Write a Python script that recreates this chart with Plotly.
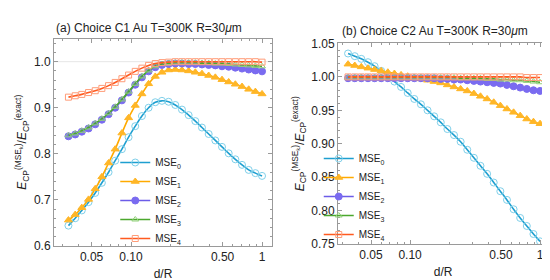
import plotly.graph_objects as go
from plotly.subplots import make_subplots

# d/R sample points (log spaced from 1/30 to 1)
d_over_r = [0.0333, 0.0375, 0.0421, 0.0474, 0.0533, 0.0599, 0.0674, 0.0757, 0.0852, 0.0958,
            0.1077, 0.1211, 0.1362, 0.1532, 0.1722, 0.1936, 0.2177, 0.2448, 0.2753, 0.3096,
            0.3480, 0.3914, 0.4400, 0.4948, 0.5564, 0.6256, 0.7035, 0.7910, 0.8895, 1.0]

# panel (a): choice C1
a_mse0 = [0.644, 0.660, 0.677, 0.695, 0.715, 0.737, 0.760, 0.785, 0.810, 0.836,
          0.860, 0.882, 0.900, 0.912, 0.915, 0.913, 0.906, 0.896, 0.884, 0.871,
          0.857, 0.843, 0.829, 0.815, 0.801, 0.788, 0.776, 0.765, 0.758, 0.752]
a_mse1 = [0.656, 0.668, 0.683, 0.701, 0.724, 0.750, 0.780, 0.810, 0.845, 0.878,
          0.905, 0.930, 0.952, 0.968, 0.977, 0.982, 0.983, 0.982, 0.980, 0.977,
          0.974, 0.970, 0.966, 0.961, 0.956, 0.951, 0.946, 0.940, 0.935, 0.930]
a_mse2 = [0.838, 0.842, 0.848, 0.855, 0.864, 0.874, 0.886, 0.900, 0.916, 0.933,
          0.950, 0.966, 0.979, 0.988, 0.993, 0.995, 0.996, 0.996, 0.995, 0.995,
          0.994, 0.993, 0.992, 0.990, 0.989, 0.987, 0.985, 0.983, 0.981, 0.979]
a_mse3 = [0.840, 0.844, 0.850, 0.857, 0.866, 0.876, 0.888, 0.902, 0.918, 0.935,
          0.952, 0.968, 0.981, 0.990, 0.995, 0.997, 0.998, 0.998, 0.998, 0.998,
          0.997, 0.997, 0.996, 0.996, 0.995, 0.994, 0.993, 0.992, 0.991, 0.990]
a_mse4 = [0.923, 0.926, 0.929, 0.933, 0.937, 0.942, 0.948, 0.955, 0.963, 0.971,
          0.979, 0.986, 0.992, 0.996, 0.998, 0.999, 1.000, 1.000, 1.000, 1.000,
          1.000, 1.000, 1.000, 1.000, 1.000, 1.000, 1.000, 1.000, 1.000, 0.999]

# panel (b): choice C2
b_mse0 = [1.035, 1.031, 1.027, 1.022, 1.016, 1.009, 1.001, 0.993, 0.985, 0.976,
          0.967, 0.959, 0.950, 0.941, 0.932, 0.922, 0.913, 0.903, 0.891, 0.879,
          0.867, 0.855, 0.842, 0.829, 0.816, 0.802, 0.789, 0.777, 0.765, 0.754]
b_mse1 = [1.019, 1.017, 1.015, 1.013, 1.011, 1.009, 1.007, 1.005, 1.003, 1.001,
          0.999, 0.997, 0.995, 0.993, 0.991, 0.988, 0.985, 0.982, 0.979, 0.975,
          0.971, 0.967, 0.962, 0.957, 0.952, 0.947, 0.942, 0.937, 0.933, 0.930]
b_mse2 = [0.998, 0.998, 0.998, 0.998, 0.998, 0.998, 0.998, 0.998, 0.998, 0.998,
          0.998, 0.998, 0.998, 0.998, 0.997, 0.997, 0.996, 0.996, 0.995, 0.994,
          0.993, 0.992, 0.991, 0.990, 0.988, 0.986, 0.984, 0.982, 0.980, 0.979]
b_mse3 = [0.999, 0.999, 0.999, 0.999, 0.999, 0.999, 0.999, 0.999, 0.999, 0.999,
          0.999, 0.999, 0.999, 0.999, 0.999, 0.999, 0.999, 0.998, 0.998, 0.998,
          0.998, 0.997, 0.997, 0.996, 0.996, 0.995, 0.995, 0.994, 0.993, 0.992]
b_mse4 = [1.000, 1.000, 1.000, 1.000, 1.000, 1.000, 1.000, 1.000, 1.000, 1.000,
          1.000, 1.000, 1.000, 1.000, 1.000, 1.000, 1.000, 1.000, 1.000, 1.000,
          1.000, 1.000, 1.000, 1.000, 1.000, 1.000, 1.000, 0.999, 0.999, 0.999]

names = ['MSE<sub>0</sub>', 'MSE<sub>1</sub>', 'MSE<sub>2</sub>', 'MSE<sub>3</sub>', 'MSE<sub>4</sub>']
line_cols = ['#1E9FD0', '#FFAA00', '#6C5CE8', '#4CA82E', '#FF5A1F']
mark_cols = ['#7FD0EA', '#FFB627', '#7A6BF0', '#92D27A', '#FF9C78']
symbols = ['circle-open', 'triangle-up', 'circle', 'triangle-up-open', 'square-open']
sizes = [7, 7, 7, 6, 6]

fig = make_subplots(rows=1, cols=2)

panels = [(1, [a_mse0, a_mse1, a_mse2, a_mse3, a_mse4], 'legend'),
          (2, [b_mse0, b_mse1, b_mse2, b_mse3, b_mse4], 'legend2')]
for col, series, leg in panels:
    for k, ys in enumerate(series):
        fig.add_trace(go.Scatter(
            x=d_over_r, y=ys,
            mode='lines+markers',
            name=names[k],
            legend=leg,
            line=dict(color=line_cols[k], width=1.6, shape='spline'),
            marker=dict(symbol=symbols[k], size=sizes[k], color=mark_cols[k],
                        line=dict(width=1, color=mark_cols[k]))
        ), row=1, col=col)

font = 'Liberation Sans, Arial, sans-serif'
minor_x = [0.03, 0.04, 0.06, 0.07, 0.08, 0.09, 0.2, 0.3, 0.4, 0.6, 0.7, 0.8, 0.9]
ytitle = '<i>E</i><sub>CP</sub><sup>(MSE<sub>k</sub>)</sup>/<i>E</i><sub>CP</sub><sup>(exact)</sup>'

axis_common = dict(showline=True, linecolor='#9a9a9a', linewidth=1, mirror='allticks',
                   ticks='inside', ticklen=4, tickcolor='#9a9a9a', showgrid=False,
                   zeroline=False, tickfont=dict(size=12, color='#222'))

fig.update_xaxes(type='log', tickvals=[0.05, 0.1, 0.5, 1], ticktext=['0.05', '0.10', '0.50', '1'],
                 minor=dict(tickvals=minor_x, ticks='inside', ticklen=2, tickcolor='#9a9a9a'),
                 title=dict(text='d/R', font=dict(size=12, color='#222'), standoff=6),
                 **axis_common)
fig.update_xaxes(domain=[0.0836, 0.48], range=[-1.588, 0.076], row=1, col=1)
fig.update_xaxes(domain=[0.600, 0.982], range=[-1.555, 0.062], row=1, col=2)

fig.update_yaxes(title=dict(text=ytitle, font=dict(size=12, color='#222'), standoff=4), **axis_common)
fig.update_yaxes(domain=[0.132, 0.911], range=[0.6, 1.05],
                 tickvals=[0.6, 0.7, 0.8, 0.9, 1.0], ticktext=['0.6', '0.7', '0.8', '0.9', '1.0'],
                 minor=dict(dtick=0.02, ticks='inside', ticklen=2, tickcolor='#9a9a9a'),
                 row=1, col=1)
fig.update_yaxes(domain=[0.139, 0.893], range=[0.75, 1.05],
                 tickvals=[0.75, 0.8, 0.85, 0.9, 0.95, 1.0, 1.05],
                 ticktext=['0.75', '0.80', '0.85', '0.90', '0.95', '1.00', '1.05'],
                 minor=dict(dtick=0.01, ticks='inside', ticklen=2, tickcolor='#9a9a9a'),
                 row=1, col=2)

# light reference line at 1.0 in panel (a)
fig.add_shape(type='line', xref='x domain', yref='y', x0=0, x1=1, y0=1.0, y1=1.0,
              line=dict(color='#e6e6e6', width=1), layer='below')

fig.add_annotation(text='(a) Choice C1 Au T=300K R=30<i>μ</i>m', xref='paper', yref='paper',
                   x=0.0836, y=0.95, xanchor='left', yanchor='middle', showarrow=False,
                   font=dict(size=12, color='#222'))
fig.add_annotation(text='(b) Choice C2 Au T=300K R=30<i>μ</i>m', xref='paper', yref='paper',
                   x=0.603, y=0.94, xanchor='left', yanchor='middle', showarrow=False,
                   font=dict(size=12, color='#222'))

leg_style = dict(bgcolor='rgba(0,0,0,0)', font=dict(size=10, color='#222'),
                 tracegroupgap=0, itemwidth=30, xanchor='left', yanchor='top')
fig.update_layout(
    width=550, height=280,
    margin=dict(l=0, r=0, t=0, b=0),
    paper_bgcolor='white', plot_bgcolor='white',
    font=dict(family=font, size=12, color='#222'),
    legend=dict(x=0.195, y=0.50, **leg_style),
    legend2=dict(x=0.565, y=0.515, **leg_style),
)

fig.write_html('out.html')
